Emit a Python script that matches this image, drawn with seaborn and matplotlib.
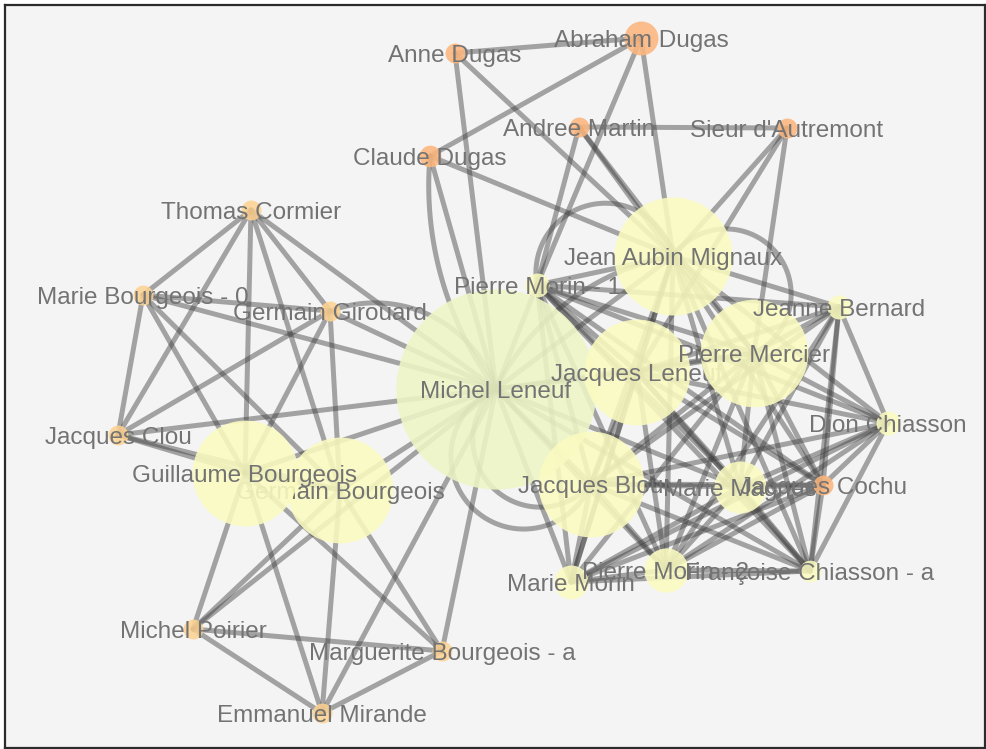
import numpy as np
import pandas as pd
import matplotlib
matplotlib.use('Agg')
import matplotlib.pyplot as plt
import seaborn as sns

# Noeuds du graphe (position, en pixels)
names = ["Anne Dugas", "Abraham Dugas", "Andree Martin", "Sieur d'Autremont", "Claude Dugas",
         "Thomas Cormier", "Marie Bourgeois - 0", "Germain Girouard", "Jacques Clou",
         "Germain Bourgeois", "Guillaume Bourgeois", "Michel Poirier", "Marguerite Bourgeois - a",
         "Emmanuel Mirande", "Michel Leneuf", "Pierre Morin - 1", "Jean Aubin Mignaux",
         "Jacques Leneuf", "Pierre Mercier", "Jeanne Bernard", "Dion Chiasson", "Jacques Blou",
         "Marie Magnes", "Jacques Cochu", "Marie Morin", "Pierre Morin - 2", "Françoise Chiasson - a"]
node_x = [455, 641, 579, 787, 430, 251, 143, 330, 118, 340, 245, 193, 442, 322, 496, 537, 673,
          637, 754, 839, 888, 591, 740, 823, 571, 666, 810]
node_y = [53, 38, 127, 128, 156, 210, 295, 311, 435, 490, 473, 629, 651, 713, 389, 285, 256,
          372, 353, 307, 423, 484, 487, 485, 582, 570, 571]
node_value = [1.1, 3.2, 1.1, 1.1, 1.3, 1.1, 1.1, 1.1, 1.1, 31, 31, 1.1, 1.1, 1.1, 111, 1.6, 38.6,
              31, 32, 1.6, 1.6, 31, 7.5, 1.1, 3.2, 5.4, 1.3]
node_group = [0, 0, 0, 0, 0, 1, 1, 1, 1, 2, 2, 1, 1, 1, 3, 2, 2, 2, 2, 2, 2, 2, 2, 0, 2, 2, 2]
palette = ['#fcb67e', '#fdd292', '#fbfbc0', '#eef6c6']

# Liens (un lien répété est dessiné en arc)
links = [
    ("Anne Dugas", "Abraham Dugas"), ("Anne Dugas", "Jean Aubin Mignaux"), ("Anne Dugas", "Michel Leneuf"),
    ("Abraham Dugas", "Claude Dugas"), ("Abraham Dugas", "Jean Aubin Mignaux"), ("Abraham Dugas", "Pierre Morin - 1"),
    ("Claude Dugas", "Jean Aubin Mignaux"), ("Claude Dugas", "Michel Leneuf"), ("Claude Dugas", "Michel Leneuf"),
    ("Andree Martin", "Sieur d'Autremont"), ("Andree Martin", "Pierre Morin - 1"),
    ("Andree Martin", "Jean Aubin Mignaux"), ("Andree Martin", "Pierre Mercier"),
    ("Sieur d'Autremont", "Jean Aubin Mignaux"), ("Sieur d'Autremont", "Jacques Leneuf"),
    ("Sieur d'Autremont", "Pierre Mercier"),
    ("Thomas Cormier", "Marie Bourgeois - 0"), ("Thomas Cormier", "Jacques Clou"),
    ("Thomas Cormier", "Germain Girouard"), ("Thomas Cormier", "Guillaume Bourgeois"),
    ("Thomas Cormier", "Germain Bourgeois"), ("Thomas Cormier", "Michel Leneuf"),
    ("Marie Bourgeois - 0", "Germain Girouard"), ("Marie Bourgeois - 0", "Michel Leneuf"),
    ("Marie Bourgeois - 0", "Jacques Clou"), ("Marie Bourgeois - 0", "Guillaume Bourgeois"),
    ("Marie Bourgeois - 0", "Germain Bourgeois"),
    ("Germain Girouard", "Jacques Clou"), ("Germain Girouard", "Guillaume Bourgeois"),
    ("Germain Girouard", "Germain Bourgeois"),
    ("Michel Leneuf", "Germain Girouard"), ("Michel Leneuf", "Germain Girouard"),
    ("Jacques Clou", "Guillaume Bourgeois"), ("Jacques Clou", "Germain Bourgeois"),
    ("Jacques Clou", "Michel Leneuf"),
    ("Guillaume Bourgeois", "Germain Bourgeois"), ("Guillaume Bourgeois", "Michel Leneuf"),
    ("Guillaume Bourgeois", "Michel Poirier"), ("Guillaume Bourgeois", "Emmanuel Mirande"),
    ("Guillaume Bourgeois", "Marguerite Bourgeois - a"),
    ("Germain Bourgeois", "Michel Leneuf"), ("Germain Bourgeois", "Michel Poirier"),
    ("Germain Bourgeois", "Emmanuel Mirande"), ("Germain Bourgeois", "Marguerite Bourgeois - a"),
    ("Michel Poirier", "Michel Leneuf"), ("Michel Poirier", "Marguerite Bourgeois - a"),
    ("Michel Poirier", "Emmanuel Mirande"), ("Marguerite Bourgeois - a", "Emmanuel Mirande"),
    ("Marguerite Bourgeois - a", "Michel Leneuf"), ("Emmanuel Mirande", "Michel Leneuf"),
    ("Michel Leneuf", "Pierre Morin - 1"), ("Jean Aubin Mignaux", "Michel Leneuf"),
    ("Jean Aubin Mignaux", "Michel Leneuf"), ("Michel Leneuf", "Jacques Leneuf"),
    ("Michel Leneuf", "Pierre Mercier"), ("Michel Leneuf", "Jacques Blou"),
    ("Michel Leneuf", "Jacques Blou"), ("Michel Leneuf", "Jacques Blou"),
    ("Michel Leneuf", "Marie Morin"), ("Michel Leneuf", "Pierre Morin - 2"), ("Michel Leneuf", "Marie Magnes"),
    ("Michel Leneuf", "Françoise Chiasson - a"),
    ("Jean Aubin Mignaux", "Pierre Morin - 1"), ("Jean Aubin Mignaux", "Pierre Morin - 1"),
    ("Pierre Mercier", "Jean Aubin Mignaux"), ("Pierre Mercier", "Jean Aubin Mignaux"),
]
core = ["Pierre Morin - 1", "Jean Aubin Mignaux", "Jacques Leneuf", "Pierre Mercier", "Jeanne Bernard",
        "Dion Chiasson", "Jacques Blou", "Marie Magnes", "Jacques Cochu", "Marie Morin",
        "Pierre Morin - 2", "Françoise Chiasson - a"]
core_missing = [("Pierre Morin - 1", "Jean Aubin Mignaux"), ("Jean Aubin Mignaux", "Pierre Mercier"),
                ("Jeanne Bernard", "Marie Morin")]
for i, a in enumerate(core):
    for b in core[i + 1:]:
        if (a, b) not in core_missing:
            links.append((a, b))

nodes = pd.DataFrame({'name': names, 'x': node_x, 'y': node_y,
                      'value': node_value, 'group': node_group})
nodes['r'] = 9.5 * np.sqrt(nodes['value'])
pos = {n: np.array([x, y], float) for n, x, y in zip(names, node_x, node_y)}


def arc_points(p1, p2, h, n=60):
    d = np.linalg.norm(p2 - p1)
    m = (p1 + p2) / 2
    u = (p2 - p1) / d
    nrm = np.array([-u[1], u[0]])
    R = (h * h + d * d / 4) / (2 * h)
    c = m + nrm * (h - R)
    apex = m + nrm * h
    ang = lambda p: np.arctan2(p[1] - c[1], p[0] - c[0])
    a1, a2, am = ang(p1), ang(p2), ang(apex)
    dpos = (a2 - a1) % (2 * np.pi)
    delta = dpos if (am - a1) % (2 * np.pi) < dpos else dpos - 2 * np.pi
    t = a1 + np.linspace(0, 1, n) * delta
    return c[0] + R * np.cos(t), c[1] + R * np.sin(t)


sns.set_theme(style="white")
plt.rcParams['font.family'] = ['Liberation Sans', 'DejaVu Sans']

fig = plt.figure(figsize=(9.87, 7.49), dpi=100)
ax = fig.add_axes([5 / 987, 1 / 749, 980 / 987, 743 / 749])
ax.set_facecolor('#f4f4f4')

# Liens
seen = {}
for s, t in links:
    key = frozenset((s, t))
    k = seen.get(key, 0)
    seen[key] = k + 1
    p1, p2 = pos[s], pos[t]
    if k == 0:
        xs, ys = [p1[0], p2[0]], [p1[1], p2[1]]
    else:
        d = np.linalg.norm(p2 - p1)
        h = min(1.3e6 / d ** 2 * k, 0.75 * d)
        xs, ys = arc_points(p1, p2, h)
    ax.plot(xs, ys, color='#404040', alpha=0.45, lw=3.6, solid_capstyle='round', zorder=1)

# Noeuds + étiquettes
for i, row in nodes.iterrows():
    sns.scatterplot(x=[row['x']], y=[row['y']], s=(1.44 * row['r']) ** 2,
                    color=palette[row['group']], alpha=0.88, linewidth=0,
                    legend=False, ax=ax, zorder=10 + 2 * i)
    ax.text(row['x'], row['y'] + 9, row['name'], ha='center', va='baseline',
            fontsize=17.5, color='#737373', zorder=11 + 2 * i)

ax.set_xlim(5, 985)
ax.set_ylim(748, 5)
ax.set_xticks([])
ax.set_yticks([])
ax.set_xlabel('')
ax.set_ylabel('')
for sp in ax.spines.values():
    sp.set_visible(True)
    sp.set_color('#2b2b2b')
    sp.set_linewidth(1.6)

fig.savefig('out.png', dpi=100, facecolor='white')
